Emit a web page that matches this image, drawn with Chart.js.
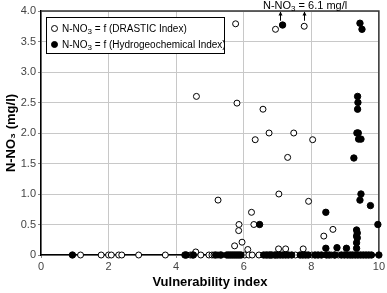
<!DOCTYPE html>
<html>
<head>
<meta charset="utf-8">
<script src="https://cdn.jsdelivr.net/npm/chart.js@4.4.1/dist/chart.umd.min.js"></script>
<style>
  html, body { margin: 0; padding: 0; background: #fff; }
  #wrap { position: relative; width: 387px; height: 293px; font-family: "Liberation Sans", Arial, sans-serif; }
  #legend { position: absolute; left: 46px; top: 17px; width: 177px; height: 35px; border: 1px solid #000;
            background: #fff; font-size: 10px; color: #000; }
  #legend .it { position: absolute; left: 4px; white-space: nowrap; line-height: 12px; }
  #legend .mk { display: inline-block; width: 5px; height: 5px; border-radius: 50%; border: 1px solid #000;
                margin-right: 4px; vertical-align: 0px; background: #fff; }
  #legend .mk.f { background: #000; }
  #note { position: absolute; left: 263px; top: -1px; font-size: 11px; color: #000; white-space: nowrap; }
  sub { font-size: 8px; vertical-align: -2px; line-height: 0; }
</style>
</head>
<body>
<div id="wrap">
  <canvas id="chart" width="387" height="293"></canvas>
  <div id="legend">
    <div class="it" style="top:5px"><span class="mk"></span>N-NO<sub>3</sub> = f (DRASTIC Index)</div>
    <div class="it" style="top:21px"><span class="mk f"></span>N-NO<sub>3</sub> = f (Hydrogeochemical Index)</div>
  </div>
  <div id="note">N-NO<sub>3</sub> = 6.1 mg/l</div>
</div>
<script>
// ---- data ----
const drasticX = [5.76, 6.94, 7.79, 4.6, 5.8, 6.57, 6.75, 7.48, 6.34, 8.04, 7.3, 7.04, 5.24, 7.92, 6.23,
  5.86, 6.3, 5.85, 8.64, 8.37, 5.95, 5.73, 6.12, 4.58, 7.03, 7.24, 7.76,
  1.17, 1.78, 2.0, 2.08, 2.3, 2.39, 2.89, 3.68, 4.42, 4.48, 4.73, 4.97, 5.06, 5.12, 5.24, 5.3,
  6.03, 6.15, 6.25, 6.45, 6.65, 6.75, 6.95, 7.53, 8.02, 8.6, 8.68, 8.8];
const drasticY = [3.79, 3.7, 3.75, 2.6, 2.49, 2.39, 2.0, 2.0, 1.89, 1.89, 1.6, 1.0, 0.9, 0.88, 0.7,
  0.5, 0.5, 0.4, 0.42, 0.31, 0.21, 0.15, 0.09, 0.05, 0.1, 0.1, 0.1,
  0, 0, 0, 0, 0, 0, 0, 0, 0, 0, 0, 0, 0, 0, 0, 0,
  0, 0, 0, 0, 0, 0, 0, 0, 0, 0, 0, 0];

const hydroX = [7.15, 9.44, 9.5, 9.37, 9.38, 9.37, 9.35, 9.39, 9.4, 9.47, 9.26, 9.47, 9.44, 9.75, 8.43,
  6.47, 9.97, 9.34, 9.36, 9.34, 9.36, 9.34, 9.34, 8.43, 8.76, 9.04,
  0.93, 4.26, 4.3, 4.51, 5.17, 5.33, 5.5, 5.56, 5.62, 5.68, 5.74, 5.8, 5.86, 5.92, 6.59, 6.69, 6.78,
  6.83, 6.92, 7.0, 7.08, 7.16, 7.24, 7.32, 7.42, 7.67, 7.75, 7.83, 7.91, 8.11, 8.2, 8.3, 8.45, 8.53,
  8.7, 8.89, 8.98, 9.07, 9.15, 9.22, 9.3, 9.38, 9.46, 9.54, 9.62, 9.7, 9.78, 10.0];
const hydroY = [3.77, 3.8, 3.7, 2.6, 2.5, 2.39, 2.0, 2.0, 1.9, 1.9, 1.59, 1.0, 0.9, 0.81, 0.7,
  0.5, 0.5, 0.41, 0.36, 0.31, 0.28, 0.2, 0.11, 0.11, 0.12, 0.11,
  0, 0, 0, 0, 0, 0, 0, 0, 0, 0, 0, 0, 0, 0, 0, 0, 0,
  0, 0, 0, 0, 0, 0, 0, 0, 0, 0, 0, 0, 0, 0, 0, 0, 0,
  0, 0, 0, 0, 0, 0, 0, 0, 0, 0, 0, 0, 0, 0];

// points plotted at the top that really are 6.1 mg/l
const arrowX = [7.06, 7.79];
const arrowFromY = 3.84;

const xTickLabels = ["0", "2", "4", "6", "8", "10"];
const yTickLabels = ["0", "0.5", "1.0", "1.5", "2.0", "2.5", "3.0", "3.5", "4.0"];

const toPts = (xs, ys) => xs.map((x, i) => ({ x, y: ys[i] }));

// frame (top/right) drawn under the points, arrows on top
const framePlugin = {
  id: "frame",
  beforeDatasetsDraw(chart) {
    const { ctx, chartArea: a } = chart;
    ctx.save();
    ctx.strokeStyle = "#333";
    ctx.lineWidth = 1.5;
    ctx.beginPath();
    ctx.moveTo(a.left, a.top); ctx.lineTo(a.right, a.top); ctx.lineTo(a.right, a.bottom);
    ctx.stroke();
    ctx.restore();
  },
  afterDatasetsDraw(chart) {
    const { ctx, scales } = chart;
    const top = chart.chartArea.top;
    ctx.save();
    ctx.strokeStyle = "#000";
    ctx.fillStyle = "#000";
    ctx.lineWidth = 1;
    for (const ax of arrowX) {
      const px = Math.round(scales.x.getPixelForValue(ax)) + 0.5;
      const y0 = scales.y.getPixelForValue(arrowFromY);
      ctx.beginPath(); ctx.moveTo(px, y0); ctx.lineTo(px, top + 1); ctx.stroke();
      ctx.beginPath(); ctx.moveTo(px, top + 0.5); ctx.lineTo(px - 2, top + 4.5); ctx.lineTo(px + 2, top + 4.5);
      ctx.closePath(); ctx.fill();
    }
    ctx.restore();
  },
};

new Chart(document.getElementById("chart"), {
  type: "scatter",
  data: {
    datasets: [
      { label: "N-NO3 = f (Hydrogeochemical Index)", data: toPts(hydroX, hydroY),
        pointRadius: 3.2, pointBackgroundColor: "#000", pointBorderColor: "#000", pointBorderWidth: 1, clip: false },
      { label: "N-NO3 = f (DRASTIC Index)", data: toPts(drasticX, drasticY),
        pointRadius: 3, pointBackgroundColor: "#fff", pointBorderColor: "#000", pointBorderWidth: 1, clip: false },
    ],
  },
  options: {
    responsive: false,
    animation: false,
    events: [],
    layout: { padding: { top: 11, right: 6, left: 0, bottom: 0 } },
    plugins: { legend: { display: false }, tooltip: { enabled: false } },
    scales: {
      x: {
        type: "linear", min: 0, max: 10,
        afterFit: (s) => { s.height = 38; },
        afterBuildTicks: (s) => { s.ticks = xTickLabels.map((t) => ({ value: Number(t) })); },
        ticks: { color: "#444", font: { family: "Liberation Sans", size: 11 }, padding: 2,
                 maxRotation: 0, callback: (v) => xTickLabels[xTickLabels.indexOf(String(v))] },
        grid: { color: "#c8c8c8", lineWidth: 1, tickLength: 3, tickColor: "#888" },
        border: { color: "#000", width: 1.5 },
        title: { display: true, text: "Vulnerability index", color: "#000",
                 font: { family: "Liberation Sans", size: 13, weight: "bold" }, padding: { top: 0, bottom: 3 } },
      },
      y: {
        type: "linear", min: 0, max: 4,
        afterFit: (s) => { s.width = 41; },
        afterBuildTicks: (s) => { s.ticks = yTickLabels.map((t) => ({ value: Number(t) })); },
        ticks: { color: "#444", font: { family: "Liberation Sans", size: 11 }, padding: 2,
                 callback: (v) => yTickLabels.find((t) => Number(t) === v) },
        grid: { color: "#c8c8c8", lineWidth: 1, tickLength: 3, tickColor: "#888" },
        border: { color: "#000", width: 1.5 },
        title: { display: true, text: "N-NO\u2083 (mg/l)", color: "#000",
                 font: { family: "Liberation Sans", size: 13, weight: "bold" }, padding: { top: 4, bottom: 0 } },
      },
    },
  },
  plugins: [framePlugin],
});
</script>
</body>
</html>
